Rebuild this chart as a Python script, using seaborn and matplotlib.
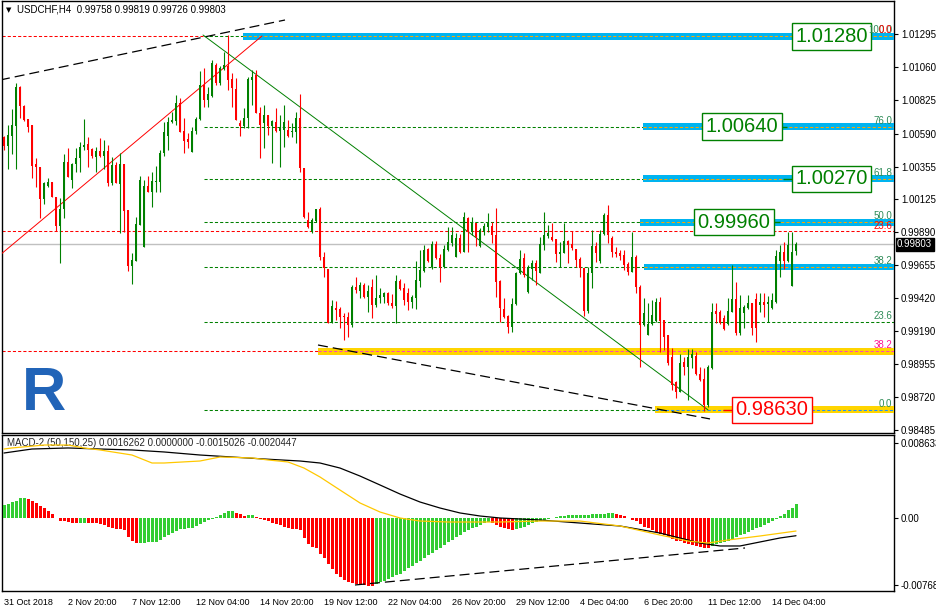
import numpy as np
import matplotlib
matplotlib.use("Agg")
import matplotlib.pyplot as plt
import matplotlib.transforms as mtransforms
from matplotlib.patches import Rectangle
import seaborn as sns

# Stil ayarlari (MT4 benzeri beyaz zemin)
sns.set_theme(style="white")
plt.rcParams['font.family'] = ['Liberation Sans', 'DejaVu Sans']

# ---------------------------------------------------------------
# VERI: USDCHF H4 mumlari (31 Oct 2018 -> 14 Dec 2018)
# ---------------------------------------------------------------
opens = [
    1.00566, 1.00502, 1.00573, 1.00644, 1.00921, 1.00786, 1.00694, 1.00651, 1.00374, 1.00353,
    1.00126, 1.00218, 1.00246, 1.00140, 0.99934, 1.00055, 1.00388, 1.00261, 1.00374, 1.00417,
    1.00495, 1.00516, 1.00481, 1.00424, 1.00466, 1.00431, 1.00466, 1.00239, 1.00367, 1.00232,
    1.00374, 1.00048, 0.99650, 0.99685, 0.99941, 0.99785, 1.00218, 1.00175, 1.00246, 1.00246,
    1.00452, 1.00573, 1.00672, 1.00679, 1.00807, 1.00608, 1.00552, 1.00459, 1.00608, 1.00694,
    1.00935, 1.00829, 1.00857, 1.01077, 1.00949, 1.01049, 1.01070, 1.00978, 1.00907, 1.00665,
    1.00644, 1.00701, 1.00971, 1.01006, 1.00736, 1.00665, 1.00722, 1.00644, 1.00672, 1.00608,
    1.00615, 1.00615, 1.00601, 1.00601, 1.00701, 1.00346, 0.99977, 0.99891, 0.99970, 1.00055,
    0.99714, 0.99629, 0.99245, 0.99352, 0.99345, 0.99295, 0.99288, 0.99231, 0.99501, 0.99472,
    0.99515, 0.99430, 0.99501, 0.99373, 0.99423, 0.99430, 0.99458, 0.99387, 0.99366, 0.99543,
    0.99494, 0.99458, 0.99394, 0.99423, 0.99543, 0.99614, 0.99771, 0.99643, 0.99806, 0.99707,
    0.99643, 0.99764, 0.99813, 0.99714, 0.99849, 0.99749, 0.99991, 0.99891, 0.99955, 0.99792,
    0.99891, 0.99927, 0.99934, 0.99870, 0.99543, 0.99345, 0.99295, 0.99217, 0.99380, 0.99600,
    0.99707, 0.99465, 0.99629, 0.99671, 0.99600, 0.99799, 0.99863, 0.99856, 0.99842, 0.99735,
    0.99742, 0.99827, 0.99806, 0.99771, 0.99700, 0.99636, 0.99330, 0.99600, 0.99792, 0.99685,
    0.99877, 1.00012, 0.99849, 0.99749, 0.99742, 0.99728, 0.99664, 0.99607, 0.99714, 0.99501,
    0.99231, 0.99160, 0.99238, 0.99259, 0.99394, 0.99267, 0.99160, 0.99004, 0.98826, 0.98755,
    0.98968, 0.98933, 0.98997, 0.99011, 0.98883, 0.98848, 0.98663, 0.98926, 0.99330, 0.99323,
    0.99281, 0.99238, 0.99323, 0.99416, 0.99174, 0.99316, 0.99352, 0.99387, 0.99416, 0.99373,
    0.99394, 0.99380, 0.99352, 0.99394, 0.99685, 0.99749, 0.99685, 0.99508, 0.99758,
]
highs = [
    1.00570, 1.00651, 1.00765, 1.00949, 1.00928, 1.00793, 1.00694, 1.00651, 1.00417, 1.00353,
    1.00246, 1.00275, 1.00246, 1.00140, 1.00133, 1.00445, 1.00488, 1.00381, 1.00488, 1.00530,
    1.00694, 1.00566, 1.00488, 1.00495, 1.00559, 1.00545, 1.00509, 1.00424, 1.00388, 1.00452,
    1.00374, 1.00048, 0.99742, 0.99998, 1.00289, 1.00261, 1.00289, 1.00317, 1.00360, 1.00474,
    1.00672, 1.00708, 1.00743, 1.00864, 1.00843, 1.00701, 1.00594, 1.00637, 1.00708, 1.01034,
    1.01056, 1.00921, 1.01113, 1.01091, 1.01070, 1.01169, 1.01290, 1.01020, 1.00985, 1.00687,
    1.00772, 1.00992, 1.01042, 1.01042, 1.00779, 1.00793, 1.00722, 1.00687, 1.00772, 1.00722,
    1.00793, 1.00687, 1.00665, 1.00743, 1.00871, 1.00346, 1.00033, 0.99991, 1.00055, 1.00069,
    0.99749, 0.99629, 0.99409, 0.99401, 0.99359, 0.99316, 0.99323, 0.99515, 0.99572, 0.99536,
    0.99529, 0.99515, 0.99558, 0.99586, 0.99494, 0.99465, 0.99465, 0.99451, 0.99586, 0.99558,
    0.99529, 0.99494, 0.99444, 0.99685, 0.99764, 0.99799, 0.99778, 0.99827, 0.99827, 0.99735,
    0.99799, 0.99927, 0.99927, 0.99884, 0.99877, 1.00033, 0.99998, 0.99998, 0.99955, 0.99920,
    0.99955, 1.00026, 0.99962, 1.00062, 0.99551, 0.99423, 0.99302, 0.99423, 0.99607, 0.99764,
    0.99742, 0.99657, 0.99692, 0.99692, 0.99856, 1.00033, 0.99941, 0.99955, 0.99842, 0.99820,
    0.99955, 0.99835, 0.99898, 0.99771, 0.99714, 0.99636, 0.99643, 0.99906, 0.99820, 0.99906,
    1.00026, 1.00083, 0.99863, 0.99785, 0.99764, 0.99764, 0.99678, 0.99891, 0.99728, 0.99515,
    0.99423, 0.99387, 0.99409, 0.99423, 0.99430, 0.99267, 0.99160, 0.99068, 0.98833, 0.99025,
    0.99004, 0.99061, 0.99061, 0.99039, 0.98933, 0.98926, 0.98947, 0.99387, 0.99387, 0.99338,
    0.99302, 0.99423, 0.99657, 0.99536, 0.99444, 0.99373, 0.99444, 0.99387, 0.99458, 0.99458,
    0.99458, 0.99437, 0.99458, 0.99764, 0.99799, 0.99820, 0.99891, 0.99891, 0.99819,
]
lows = [
    1.00474, 1.00339, 1.00445, 1.00339, 1.00701, 1.00679, 1.00601, 1.00275, 1.00211, 0.99991,
    1.00090, 1.00211, 1.00140, 0.99898, 0.99671, 0.99991, 1.00282, 1.00204, 1.00317, 1.00317,
    1.00474, 1.00353, 1.00417, 1.00317, 1.00424, 1.00339, 1.00218, 1.00225, 1.00239, 0.99884,
    0.99891, 0.99614, 0.99522, 0.99685, 0.99941, 0.99785, 1.00175, 1.00069, 1.00175, 1.00175,
    1.00431, 1.00474, 1.00665, 1.00651, 1.00601, 1.00452, 1.00488, 1.00459, 1.00587, 1.00687,
    1.00779, 1.00779, 1.00850, 1.00935, 1.00935, 1.01042, 1.00900, 1.00779, 1.00687, 1.00573,
    1.00630, 1.00630, 1.00793, 1.00736, 1.00417, 1.00488, 1.00580, 1.00381, 1.00601, 1.00353,
    1.00495, 1.00566, 1.00566, 1.00523, 1.00317, 0.99991, 0.99920, 0.99884, 0.99962, 0.99692,
    0.99572, 0.99245, 0.99245, 0.99267, 0.99210, 0.99125, 0.99146, 0.99217, 0.99458, 0.99423,
    0.99423, 0.99323, 0.99281, 0.99359, 0.99387, 0.99387, 0.99373, 0.99352, 0.99245, 0.99480,
    0.99373, 0.99338, 0.99352, 0.99345, 0.99501, 0.99607, 0.99678, 0.99629, 0.99700, 0.99536,
    0.99636, 0.99756, 0.99792, 0.99714, 0.99742, 0.99749, 0.99749, 0.99870, 0.99792, 0.99785,
    0.99870, 0.99891, 0.99813, 0.99430, 0.99252, 0.99281, 0.99174, 0.99181, 0.99373, 0.99593,
    0.99572, 0.99458, 0.99551, 0.99515, 0.99600, 0.99764, 0.99849, 0.99827, 0.99678, 0.99643,
    0.99742, 0.99671, 0.99764, 0.99643, 0.99572, 0.99295, 0.99316, 0.99494, 0.99678, 0.99671,
    0.99870, 0.99813, 0.99714, 0.99714, 0.99692, 0.99622, 0.99586, 0.99607, 0.99458, 0.98933,
    0.99224, 0.99160, 0.99231, 0.99252, 0.99039, 0.99054, 0.98947, 0.98770, 0.98713, 0.98755,
    0.98876, 0.98699, 0.98926, 0.98876, 0.98833, 0.98620, 0.98649, 0.98919, 0.99245, 0.99238,
    0.99196, 0.99231, 0.99323, 0.99160, 0.99160, 0.99210, 0.99345, 0.99160, 0.99110, 0.99323,
    0.99288, 0.99252, 0.99345, 0.99387, 0.99572, 0.99629, 0.99678, 0.99508, 0.99726,
]
closes = [
    1.00502, 1.00580, 1.00651, 1.00921, 1.00786, 1.00687, 1.00637, 1.00360, 1.00353, 1.00126,
    1.00239, 1.00246, 1.00140, 0.99934, 1.00055, 1.00388, 1.00282, 1.00374, 1.00417, 1.00495,
    1.00509, 1.00474, 1.00431, 1.00466, 1.00431, 1.00466, 1.00239, 1.00367, 1.00239, 1.00374,
    1.00040, 0.99650, 0.99692, 0.99948, 1.00261, 1.00218, 1.00175, 1.00253, 1.00253, 1.00452,
    1.00601, 1.00672, 1.00687, 1.00807, 1.00601, 1.00537, 1.00530, 1.00608, 1.00694, 1.00935,
    1.00829, 1.00871, 1.01091, 1.00949, 1.01056, 1.01077, 1.00971, 1.00914, 1.00687, 1.00644,
    1.00701, 1.00978, 1.00992, 1.00736, 1.00651, 1.00722, 1.00644, 1.00679, 1.00608, 1.00637,
    1.00672, 1.00573, 1.00608, 1.00701, 1.00346, 0.99998, 0.99927, 0.99977, 1.00055, 0.99714,
    0.99636, 0.99245, 0.99366, 0.99338, 0.99288, 0.99288, 0.99231, 0.99501, 0.99480, 0.99515,
    0.99430, 0.99472, 0.99373, 0.99423, 0.99444, 0.99458, 0.99387, 0.99366, 0.99543, 0.99487,
    0.99409, 0.99394, 0.99430, 0.99551, 0.99622, 0.99764, 0.99685, 0.99806, 0.99707, 0.99643,
    0.99771, 0.99820, 0.99870, 0.99849, 0.99749, 0.99998, 0.99891, 0.99955, 0.99856, 0.99906,
    0.99934, 0.99955, 0.99870, 0.99536, 0.99352, 0.99288, 0.99217, 0.99380, 0.99600, 0.99700,
    0.99586, 0.99643, 0.99671, 0.99614, 0.99806, 0.99870, 0.99884, 0.99835, 0.99735, 0.99749,
    0.99827, 0.99799, 0.99778, 0.99692, 0.99636, 0.99330, 0.99600, 0.99792, 0.99742, 0.99877,
    1.00012, 0.99870, 0.99749, 0.99735, 0.99721, 0.99657, 0.99607, 0.99714, 0.99501, 0.99231,
    0.99316, 0.99238, 0.99302, 0.99394, 0.99259, 0.99146, 0.98961, 0.98805, 0.98755, 0.98961,
    0.98933, 0.99004, 0.99025, 0.98883, 0.98841, 0.98663, 0.98933, 0.99323, 0.99309, 0.99245,
    0.99203, 0.99330, 0.99416, 0.99174, 0.99352, 0.99359, 0.99387, 0.99210, 0.99210, 0.99394,
    0.99373, 0.99394, 0.99409, 0.99721, 0.99749, 0.99685, 0.99799, 0.99749, 0.99803,
]

# MACD-2 (50,150,25) histogrami ve renkleri (g = yukselen, r = dusen)
macd_hist = [
    0.00150, 0.00161, 0.00188, 0.00199, 0.00230, 0.00231, 0.00219, 0.00196, 0.00169, 0.00134,
    0.00111, 0.00081, 0.00046, 0.00005, -0.00031, -0.00035, -0.00050, -0.00054, -0.00055, -0.00054,
    -0.00053, -0.00055, -0.00061, -0.00062, -0.00069, -0.00081, -0.00100, -0.00111, -0.00123, -0.00130,
    -0.00138, -0.00215, -0.00265, -0.00284, -0.00283, -0.00282, -0.00280, -0.00278, -0.00272, -0.00253,
    -0.00222, -0.00196, -0.00169, -0.00146, -0.00130, -0.00127, -0.00119, -0.00111, -0.00092, -0.00069,
    -0.00050, -0.00027, -0.00012, 0.00015, 0.00035, 0.00054, 0.00077, 0.00081, 0.00058, 0.00042,
    0.00027, 0.00035, 0.00036, 0.00015, -0.00015, -0.00023, -0.00035, -0.00054, -0.00065, -0.00081,
    -0.00100, -0.00115, -0.00127, -0.00130, -0.00138, -0.00234, -0.00299, -0.00330, -0.00345, -0.00414,
    -0.00460, -0.00530, -0.00590, -0.00640, -0.00680, -0.00710, -0.00740, -0.00750, -0.00760, -0.00770,
    -0.00770, -0.00780, -0.00780, -0.00760, -0.00740, -0.00720, -0.00700, -0.00680, -0.00660, -0.00640,
    -0.00610, -0.00580, -0.00550, -0.00520, -0.00490, -0.00460, -0.00430, -0.00400, -0.00370, -0.00340,
    -0.00310, -0.00280, -0.00250, -0.00220, -0.00190, -0.00160, -0.00140, -0.00120, -0.00100, -0.00080,
    -0.00060, -0.00050, -0.00060, -0.00080, -0.00100, -0.00120, -0.00130, -0.00140, -0.00130, -0.00120,
    -0.00100, -0.00080, -0.00060, -0.00050, -0.00030, -0.00020, -0.00010, 0.00000, 0.00010, 0.00020,
    0.00020, 0.00030, 0.00030, 0.00030, 0.00040, 0.00040, 0.00040, 0.00050, 0.00050, 0.00050,
    0.00050, 0.00060, 0.00060, 0.00050, 0.00040, 0.00020, 0.00000, -0.00020, -0.00040, -0.00070,
    -0.00100, -0.00120, -0.00140, -0.00160, -0.00180, -0.00200, -0.00220, -0.00240, -0.00260, -0.00270,
    -0.00290, -0.00300, -0.00310, -0.00320, -0.00330, -0.00340, -0.00350, -0.00320, -0.00300, -0.00290,
    -0.00280, -0.00260, -0.00240, -0.00220, -0.00200, -0.00180, -0.00160, -0.00140, -0.00120, -0.00100,
    -0.00080, -0.00060, -0.00040, -0.00010, 0.00020, 0.00050, 0.00090, 0.00120, 0.0016262,
]
hist_colors = ("gggggg" + "r" * 13 + "gg" + "r" * 13 + "g" * 24 + "rrr" + "gg" + "r" * 30
               + "g" * 29 + "r" * 6 + "g" * 25 + "r" * 24 + "g" * 22)

# MACD cizgileri (siyah = ana, sari = sinyal)
black_idx = [0, 7, 16, 24, 32, 40, 49, 57, 65, 74, 79, 84, 89, 94, 99, 104, 109, 114, 119, 124,
             134, 144, 154, 164, 174, 179, 184, 189, 194, 198]
black_val = [0.00748, 0.00794, 0.00806, 0.00794, 0.00783, 0.00760, 0.00725, 0.00702, 0.00679, 0.00656,
             0.00633, 0.00575, 0.00483, 0.00380, 0.00276, 0.00184, 0.00115, 0.00058, 0.00023, 0.00000,
             -0.00023, -0.00058, -0.00092, -0.00173, -0.00288, -0.00322, -0.00322, -0.00276, -0.00230, -0.00204]
yellow_idx = [0, 2, 10, 16, 20, 24, 32, 37, 40, 49, 54, 62, 66, 71, 75, 79, 84, 89, 94, 99,
              104, 111, 124, 134, 144, 154, 164, 171, 176, 181, 189, 198]
yellow_val = [0.00794, 0.00806, 0.00840, 0.00840, 0.00806, 0.00783, 0.00725, 0.00633, 0.00633, 0.00656,
              0.00702, 0.00691, 0.00668, 0.00645, 0.00575, 0.00472, 0.00322, 0.00173, 0.00069, 0.00000,
              -0.00035, -0.00046, -0.00046, -0.00035, -0.00035, -0.00092, -0.00196, -0.00265, -0.00288,
              -0.00253, -0.00207, -0.00150]

# Zaman ekseni etiketleri (her 16 mumda bir)
time_tick_idx = [0, 16, 32, 48, 64, 80, 96, 112, 128, 144, 160, 176, 192]
time_tick_labels = ["31 Oct 2018", "2 Nov 20:00", "7 Nov 12:00", "12 Nov 04:00", "14 Nov 20:00",
                    "19 Nov 12:00", "22 Nov 04:00", "26 Nov 20:00", "29 Nov 12:00", "4 Dec 04:00",
                    "6 Dec 20:00", "11 Dec 12:00", "14 Dec 04:00"]

price_ticks = [1.01295, 1.01060, 1.00825, 1.00590, 1.00355, 1.00125, 0.99890,
               0.99655, 0.99420, 0.99190, 0.98955, 0.98720, 0.98485]
macd_ticks = [0.008633, 0.0, -0.007682]
macd_tick_labels = ["0.008633", "0.00", "-0.007682"]

# Fibonacci seviyeleri (yesil: 1.01280 -> 0.98630)
fib_levels = [1.01280, 1.00640, 1.00270, 0.99960, 0.99642, 0.99255, 0.98630]
fib_names = ["100.0", "76.0", "61.8", "50.0", "38.2", "23.6", "0.0"]
# Kirmizi fibonacci (0.0 / 23.6 / 38.2)
red_fib_levels = [1.01280, 0.99898, 0.99043]
red_fib_names = ["0.0", "23.6", "38.2"]

# Hedef kutulari
target_prices = [1.01280, 1.00640, 1.00270, 0.99960, 0.98630]
target_labels = ["1.01280", "1.00640", "1.00270", "0.99960", "0.98630"]

last_price = 0.99803

# ---------------------------------------------------------------
# CIZIM
# ---------------------------------------------------------------
W, H = 937, 612
GREEN = "#008000"
RED = "#FF0000"
LIME = "#32CD32"
BLUE_BAND = "#00B4F0"
GOLD_BAND = "#FFD500"
FIB_TXT = "#2E8B57"


def px_axes(x0, y0, x1, y1):
    return [x0 / W, 1 - y1 / H, (x1 - x0) / W, (y1 - y0) / H]


fig = plt.figure(figsize=(W / 100, H / 100), dpi=100)
fig.patch.set_facecolor("white")
ax = fig.add_axes(px_axes(2, 1, 894, 433))
axm = fig.add_axes(px_axes(2, 435, 894, 591))

XMIN, XMAX = -0.5, 222.5
for a in (ax, axm):
    a.set_xlim(XMIN, XMAX)
    a.set_facecolor("white")
    for s in a.spines.values():
        s.set_color("black")
        s.set_linewidth(1.0)
ax.set_ylim(0.984642, 1.015314)
axm.set_ylim(-0.008402, 0.009553)

# --- fib / seviye cizgileri
dash_s = (0, (3, 2))
xr = XMAX
ax.hlines(red_fib_levels[0], XMIN, 50, colors=RED, linestyles=dash_s, lw=0.75, zorder=2)
ax.hlines(red_fib_levels[1:], XMIN, xr, colors=RED, linestyles=dash_s, lw=0.75, zorder=2)
ax.hlines(fib_levels, 50, xr, colors=GREEN, linestyles=dash_s, lw=0.75, zorder=2)

# mavi ve sari bantlar
bands = [(59.75, 1.01280, BLUE_BAND, "#FFA500"), (159.75, 1.00640, BLUE_BAND, "#FFA500"),
         (159.75, 1.00270, BLUE_BAND, "#FFA500"), (159.0, 0.99960, BLUE_BAND, "#FFA500"),
         (160.0, 0.99642, BLUE_BAND, "#FFA500"), (78.5, 0.99043, GOLD_BAND, "#FF40C0"),
         (162.75, 0.98630, GOLD_BAND, "#1E90FF")]
band_h = 0.00046
for x0, lvl, fc, lc in bands:
    ax.add_patch(Rectangle((x0, lvl - band_h / 2), xr - x0, band_h, facecolor=fc,
                           edgecolor="none", zorder=3))
    ax.hlines(lvl, x0, xr, colors=lc, linestyles=dash_s, lw=0.75, zorder=4)

# guncel fiyat cizgisi
ax.axhline(last_price, color="#C0C0C0", lw=1.0, zorder=2)

# --- trend cizgileri
ax.plot([-1, 70.25], [1.009705, 1.013965], color="black", lw=0.9, ls=(0, (8, 4)), zorder=5)
ax.plot([78.5, 176.5], [0.99089, 0.98564], color="black", lw=0.9, ls=(0, (8, 4)), zorder=5)
ax.plot([-1, 64.5], [0.99728, 1.01283], color=RED, lw=0.7, zorder=5)
ax.plot([49.75, 176], [1.01290, 0.98628], color=GREEN, lw=0.7, zorder=5)

# --- mumlar
o = np.array(opens)
hi = np.array(highs)
lo = np.array(lows)
c = np.array(closes)
idx = np.arange(len(c))
cols = np.where(c >= o, GREEN, RED)
ax.vlines(idx, lo, hi, colors=cols, lw=0.8, zorder=6)
ax.bar(idx, np.maximum(np.abs(c - o), 0.00003), bottom=np.minimum(o, c), width=0.72,
       color=cols, linewidth=0, zorder=7)

# --- hedef kutulari
box_x = [206.9, 184.5, 206.9, 182.5, 192.0]
for bx, p, lab in zip(box_x, target_prices, target_labels):
    clr = RED if p < 0.99 else GREEN
    ax.text(bx, p, lab, color=clr, fontsize=14.5, ha="center", va="center", zorder=12,
            bbox=dict(boxstyle="square,pad=0.18", fc="white", ec=clr, lw=1.0))
ax.hlines(1.00270, 194.75, 197.5, colors=GREEN, lw=1.0, zorder=11)
ax.hlines(0.99960, 191.25, 194.0, colors=GREEN, lw=1.0, zorder=11)
ax.hlines(1.00640, 193.5, 195.75, colors=GREEN, lw=1.0, zorder=11)
ax.hlines(0.98630, 179.75, 182.5, colors=RED, lw=1.0, zorder=11)

# --- fib etiketleri
for lvl, name in zip(fib_levels, fib_names):
    ax.text(222.0, lvl + 0.00007, name, color=FIB_TXT, fontsize=7, ha="right", va="bottom",
            zorder=13)
ax.text(222.0, red_fib_levels[0] + 0.00007, red_fib_names[0], color=RED, fontsize=7,
        ha="right", va="bottom", zorder=14)
ax.text(222.0, red_fib_levels[1] + 0.00001, red_fib_names[1], color=RED, fontsize=7,
        ha="right", va="bottom", zorder=14)
ax.text(222.0, red_fib_levels[2] + 0.00007, red_fib_names[2], color="#FF1493", fontsize=7,
        ha="right", va="bottom", zorder=14)

# --- fiyat ekseni (sag)
ax.yaxis.tick_right()
ax.set_yticks(price_ticks)
ax.set_yticklabels([f"{v:.5f}" for v in price_ticks])
ax.tick_params(axis="y", direction="out", length=3, width=0.8, pad=2, labelsize=7,
               colors="black")
ax.set_xticks([])

ptrans = mtransforms.blended_transform_factory(ax.transAxes, ax.transData)
ax.text(1.0 + 3 / 892, last_price, "0.99803", transform=ptrans, fontsize=7, color="white",
        ha="left", va="center", clip_on=False, zorder=15,
        bbox=dict(boxstyle="square,pad=0.15", fc="black", ec="black"))

# --- baslik ve logo
fig.text(6 / W, 1 - 10 / H, "\u25BC", fontsize=5, color="black", va="center",
         family=["DejaVu Sans"])
fig.text(17 / W, 1 - 10 / H, "USDCHF,H4  0.99758 0.99819 0.99726 0.99803", fontsize=7,
         color="black", va="center")
fig.text(44 / W, 1 - 395 / H, "R", fontsize=44, fontweight="bold", color="#2164B8",
         ha="center", va="center")

# --- MACD paneli
axm.bar(idx, macd_hist, width=0.75, color=[LIME if k == "g" else RED for k in hist_colors],
        linewidth=0, zorder=3)
sns.lineplot(x=black_idx, y=black_val, ax=axm, color="black", lw=0.9, zorder=4)
sns.lineplot(x=yellow_idx, y=yellow_val, ax=axm, color="#FFC800", lw=0.9, zorder=5)
axm.plot([87.75, 185.25], [-0.00771, -0.00345], color="black", lw=0.9, ls=(0, (8, 4)), zorder=6)
axm.text(5 / 892, 1 - 8 / 156, "MACD-2 (50,150,25) 0.0016262 0.0000000 -0.0015026 -0.0020447",
         transform=axm.transAxes, fontsize=7, va="center", ha="left")

axm.yaxis.tick_right()
axm.set_yticks(macd_ticks)
axm.set_yticklabels(macd_tick_labels)
axm.tick_params(axis="y", direction="out", length=3, width=0.8, pad=2, labelsize=7,
                colors="black")
axm.set_xticks(time_tick_idx)
axm.set_xticklabels(time_tick_labels, ha="left")
axm.tick_params(axis="x", direction="out", length=3, width=0.8, pad=2, labelsize=6.5,
                colors="black")
axm.set_xlabel("")
axm.set_ylabel("")

fig.savefig("out.png", dpi=100, facecolor="white")
